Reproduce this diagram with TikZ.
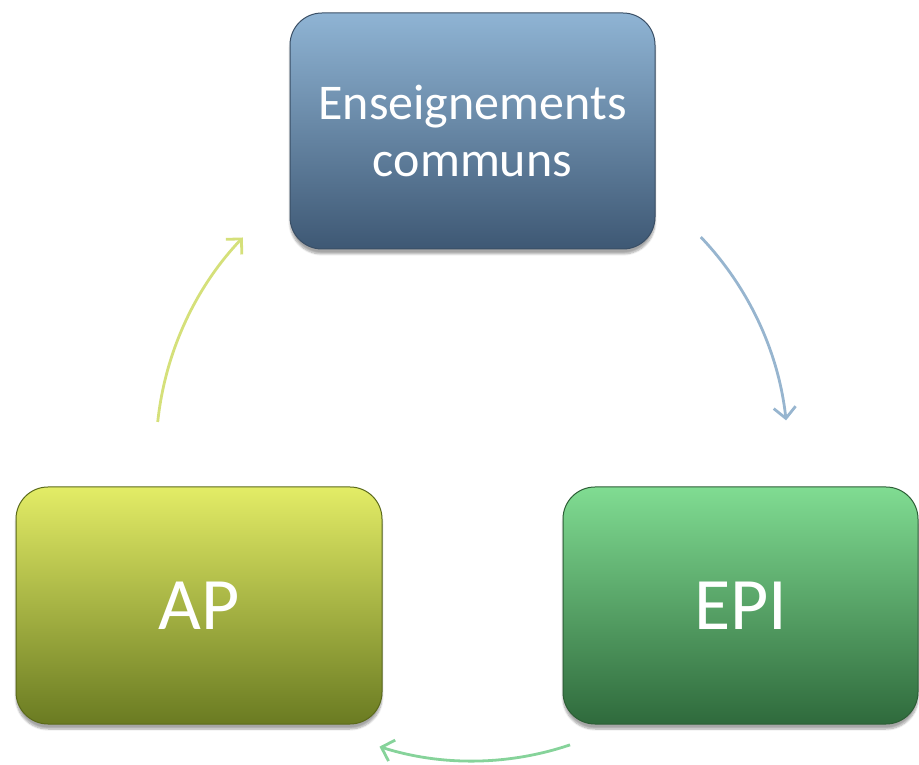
\documentclass[tikz,border=0pt]{standalone}
\usepackage{fontspec}
\setmainfont{Carlito}
\usetikzlibrary{arrows.meta,shadows.blur,calc}
\definecolor{bTop}{HTML}{8FB4D4}
\definecolor{bBot}{HTML}{3E5874}
\definecolor{bLine}{HTML}{3A4F66}
\definecolor{yTop}{HTML}{E3EC66}
\definecolor{yBot}{HTML}{6A7B22}
\definecolor{yLine}{HTML}{5B6A1A}
\definecolor{gTop}{HTML}{80DC92}
\definecolor{gBot}{HTML}{2F6A3C}
\definecolor{gLine}{HTML}{2D5E36}
\definecolor{bArr}{HTML}{97B5CF}
\definecolor{gArr}{HTML}{86D39A}
\definecolor{yArr}{HTML}{D5E07A}
\tikzset{
  box/.style={rectangle, rounded corners=32pt, line width=1pt, text=white,
    align=center, inner sep=0pt,
    blur shadow={shadow xshift=0pt, shadow yshift=-5pt, shadow blur steps=8, shadow opacity=35}},
  bluebox/.style={box, draw=bLine, top color=bTop, bottom color=bBot},
  yellowbox/.style={box, draw=yLine, top color=yTop, bottom color=yBot},
  greenbox/.style={box, draw=gLine, top color=gTop, bottom color=gBot},
  cyc/.style={line width=2.8pt, -{Straight Barb[length=11pt,width=22pt,line width=2.8pt]}},
}
\begin{document}
\begin{tikzpicture}[x=1pt,y=1pt]
\useasboundingbox (0,0) rectangle (919,764);
\node[bluebox, minimum width=365pt, minimum height=236pt,
  font=\fontsize{50}{57}\selectfont] (ens) at (472.5,633) {Enseignements\\communs};
\node[yellowbox, minimum width=366pt, minimum height=237pt,
  font=\fontsize{74}{80}\selectfont] (ap) at (199,158.5) {AP};
\node[greenbox, minimum width=355pt, minimum height=237pt,
  font=\fontsize{74}{80}\selectfont] (epi) at (740.5,158.5) {EPI};
\coordinate (c) at (472,309);
\draw[cyc, draw=bArr] ($(c)+(43.6:316)$) arc[start angle=43.6, end angle=6.3, radius=316];
\draw[cyc, draw=gArr] ($(c)+(-71.3:306)$) arc[start angle=-71.3, end angle=-107.6, radius=306];
\draw[cyc, draw=yArr] ($(c)+(174:316)$) arc[start angle=174, end angle=136.5, radius=316];
\end{tikzpicture}
\end{document}
